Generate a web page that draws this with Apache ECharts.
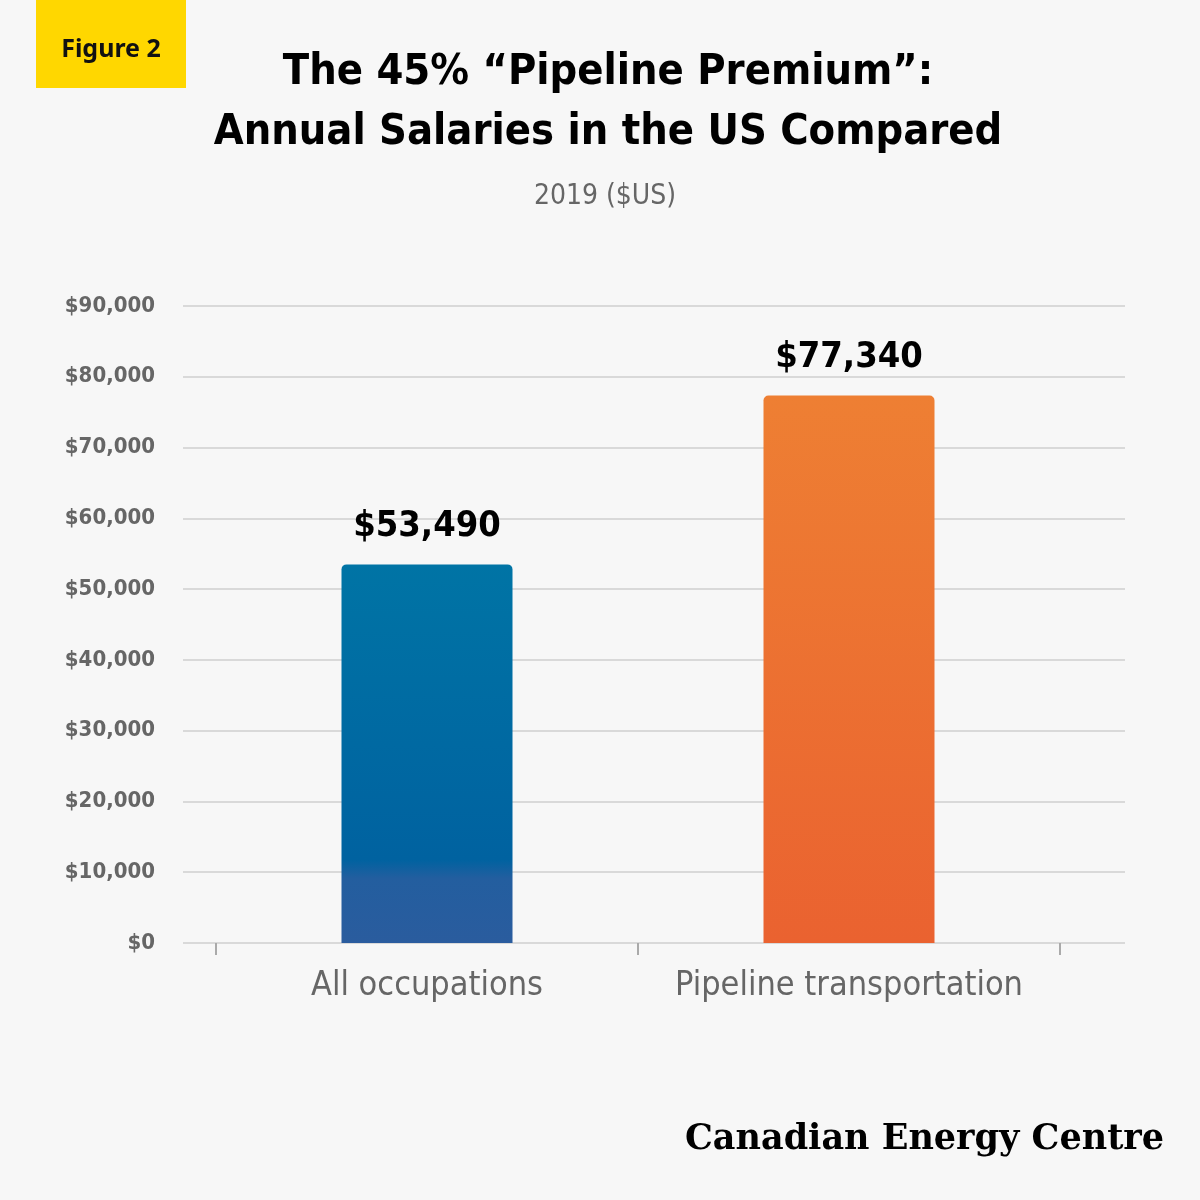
<!DOCTYPE html>
<html>
<head>
<meta charset="utf-8">
<script src="https://cdn.jsdelivr.net/npm/echarts@6/dist/echarts.min.js"></script>
<style>
  html, body { margin: 0; padding: 0; background: #f7f7f7; }
  #chart { width: 1200px; height: 1200px; }
</style>
</head>
<body>
<div id="chart"></div>
<script>
// data
var categories = ['All occupations', 'Pipeline transportation'];
var salaries = [53490, 77340];
var yMin = 0, yMax = 90000, yStep = 10000;

var narrow = "'Liberation Sans Narrow', 'DejaVu Sans Condensed', sans-serif";

var barColors = [
  new echarts.graphic.LinearGradient(0, 0, 0, 1, [
    { offset: 0, color: '#0074a5' },
    { offset: 0.78, color: '#0062a0' },
    { offset: 0.83, color: '#235e9f' },
    { offset: 1, color: '#2a5c9e' }
  ]),
  new echarts.graphic.LinearGradient(0, 0, 0, 1, [
    { offset: 0, color: '#ee7f33' },
    { offset: 1, color: '#ea6230' }
  ])
];

var chart = echarts.init(document.getElementById('chart'));

var option = {
  backgroundColor: '#f7f7f7',
  animation: false,
  title: [
    {
      text: 'The 45% \u201cPipeline Premium\u201d:\nAnnual Salaries in the US Compared',
      left: 603,
      top: 38,
      textAlign: 'center',
      textStyle: {
        fontFamily: narrow,
        fontWeight: 'bold',
        fontSize: 43,
        lineHeight: 60,
        color: '#000'
      }
    },
    {
      text: '2019 ($US)',
      left: 600,
      top: 178,
      textAlign: 'center',
      textStyle: {
        fontFamily: narrow,
        fontWeight: 'normal',
        fontSize: 28,
        color: '#666'
      }
    }
  ],
  graphic: [
    {
      type: 'rect',
      shape: { x: 36, y: 0, width: 150, height: 88 },
      style: { fill: '#ffd700' }
    },
    {
      type: 'text',
      x: 111, y: 50,
      style: {
        text: 'Figure 2',
        fontFamily: "'Noto Sans', sans-serif",
        fontWeight: 'bold',
        fontSize: 25,
        fill: '#111',
        align: 'center',
        verticalAlign: 'middle'
      }
    },
    {
      type: 'text',
      x: 1164, y: 1140,
      style: {
        text: 'Canadian Energy Centre',
        fontFamily: "'DejaVu Serif', 'Liberation Serif', serif",
        fontWeight: 'bold',
        fontSize: 35,
        fill: '#000',
        align: 'right',
        verticalAlign: 'middle'
      }
    }
  ],
  grid: [
    { left: 183, right: 75, top: 306, bottom: 257 },
    { left: 216, right: 140, top: 306, bottom: 257 }
  ],
  xAxis: [
    {
      gridIndex: 0,
      type: 'value',
      show: false
    },
    {
      gridIndex: 1,
      type: 'category',
      data: categories,
      axisLine: { show: false },
      axisTick: { show: true, length: 12, lineStyle: { color: '#aaa', width: 2 } },
      axisLabel: {
        interval: 0,
        fontFamily: narrow,
        fontSize: 34,
        color: '#666',
        margin: 26
      }
    }
  ],
  yAxis: [
    {
      gridIndex: 0,
      type: 'value',
      min: yMin,
      max: yMax,
      interval: yStep,
      axisLine: { show: false },
      axisTick: { show: false },
      splitLine: { lineStyle: { color: '#d9d9d9', width: 2 } },
      axisLabel: {
        fontFamily: narrow,
        fontWeight: 'bold',
        fontSize: 22,
        color: '#666',
        margin: 28,
        formatter: function (v) { return '$' + v.toLocaleString('en-US'); }
      }
    },
    {
      gridIndex: 1,
      type: 'value',
      min: yMin,
      max: yMax,
      interval: yStep,
      show: false,
      splitLine: { show: false }
    }
  ],
  series: [
    {
      type: 'bar',
      xAxisIndex: 1,
      yAxisIndex: 1,
      barWidth: 171,
      data: salaries.map(function (v, i) {
        return { value: v, itemStyle: { color: barColors[i], borderRadius: [5, 5, 0, 0] } };
      }),
      label: {
        show: true,
        position: 'top',
        distance: 20,
        fontFamily: narrow,
        fontWeight: 'bold',
        fontSize: 36,
        color: '#000',
        formatter: function (p) { return '$' + p.value.toLocaleString('en-US'); }
      }
    }
  ]
};

chart.setOption(option);
</script>
</body>
</html>
